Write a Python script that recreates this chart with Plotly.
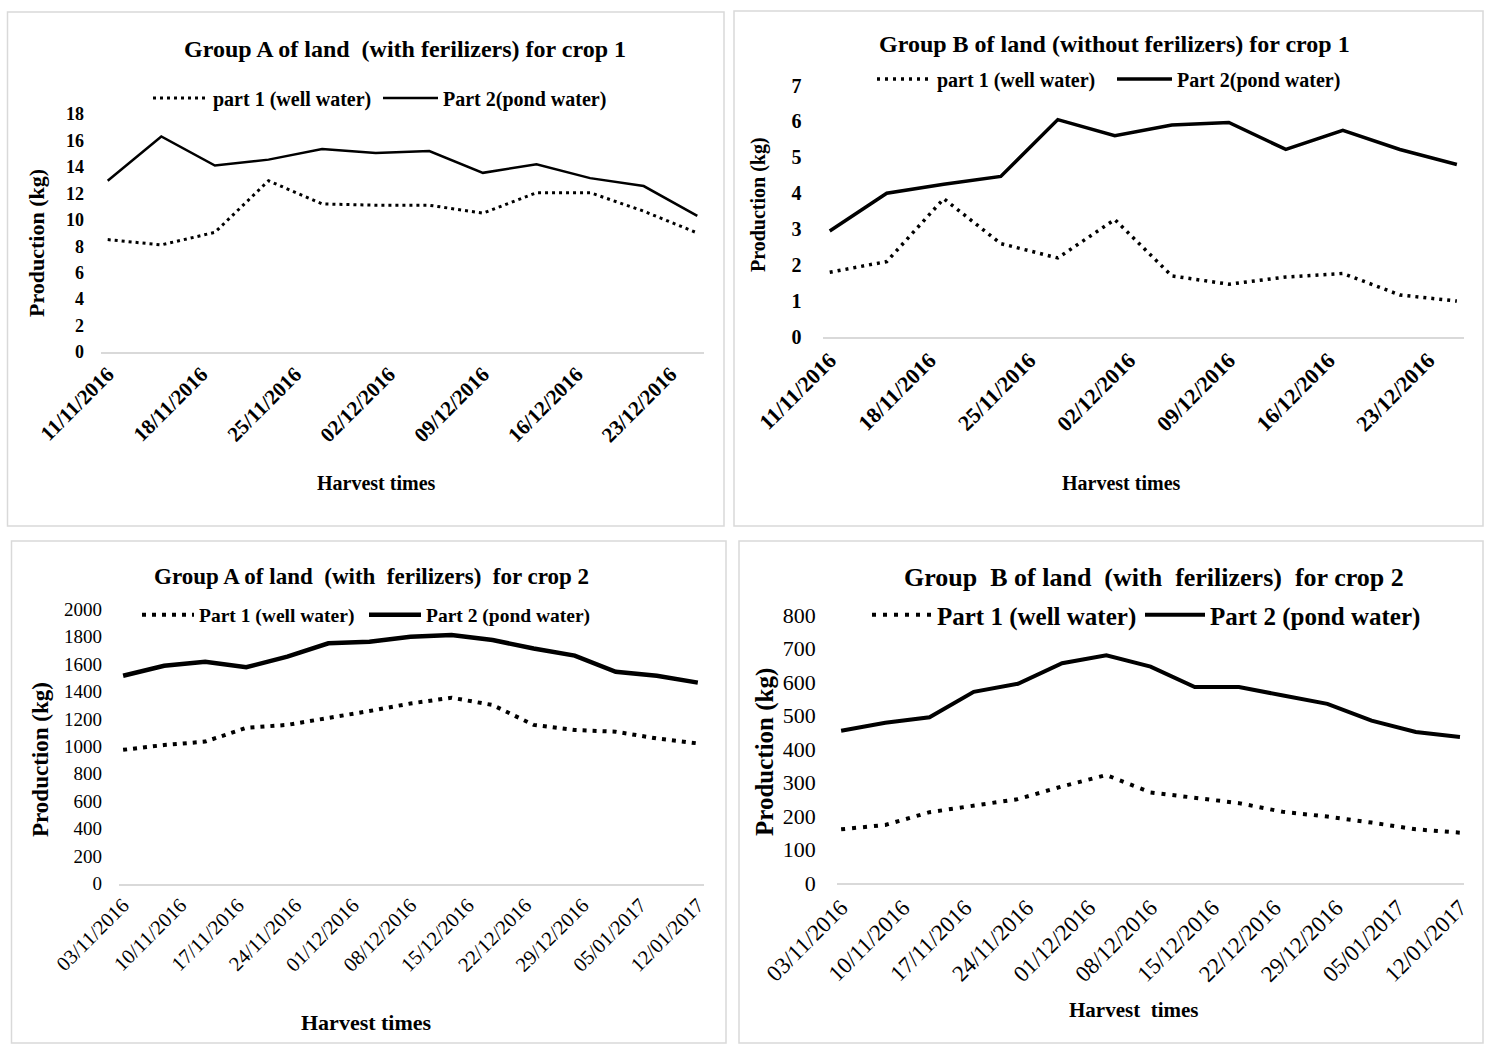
import plotly.graph_objects as go

W, H = 1487, 1045
SERIF = "Liberation Serif"

# Harvest dates
crop1_dates = ["2016-11-11", "2016-11-15", "2016-11-19", "2016-11-23", "2016-11-27", "2016-12-01",
               "2016-12-05", "2016-12-09", "2016-12-13", "2016-12-17", "2016-12-21", "2016-12-25"]
crop2_dates = ["2016-11-03", "2016-11-08", "2016-11-13", "2016-11-18", "2016-11-23", "2016-11-28",
               "2016-12-03", "2016-12-08", "2016-12-13", "2016-12-18", "2016-12-23", "2016-12-28",
               "2017-01-02", "2017-01-07", "2017-01-12"]

# Production (kg)
a1_well = [8.5, 8.1, 9.05, 12.95, 11.2, 11.1, 11.1, 10.5, 12.05, 12.05, 10.65, 9.0]
a1_pond = [12.95, 16.3, 14.1, 14.55, 15.35, 15.05, 15.2, 13.55, 14.2, 13.15, 12.55, 10.3]
b1_well = [1.8, 2.1, 3.85, 2.6, 2.2, 3.27, 1.7, 1.47, 1.67, 1.77, 1.17, 1.0]
b1_pond = [2.95, 4.0, 4.25, 4.47, 6.05, 5.6, 5.9, 5.97, 5.22, 5.75, 5.22, 4.8]
a2_well = [975, 1010, 1035, 1135, 1157, 1205, 1258, 1313, 1355, 1302, 1157, 1120, 1107, 1058, 1022]
a2_pond = [1515, 1588, 1617, 1577, 1655, 1752, 1764, 1800, 1812, 1776, 1714, 1662, 1544, 1516, 1465]
b2_well = [161, 174, 212, 231, 251, 289, 323, 271, 254, 239, 213, 199, 181, 161, 151]
b2_pond = [455, 479, 495, 571, 595, 656, 680, 646, 585, 585, 560, 535, 485, 451, 436]


def px(x):
    return x / W


def py(y):
    return 1 - y / H


NB = "\u00a0"

fig = go.Figure()
annotations = []
shapes = []
layout_extra = {}


def add_panel(idx, dates, well, pond, names, box, xdom, ydom, xrange, tick0, yrange, ydtick,
              title, title_pos, title_size, leg_pos, leg_size, leg_gap,
              ytitle_pos, ytitle_size, xtitle, xtitle_pos, xtitle_size,
              ytick_size, xtick_size, bold_ticks, ystandoff,
              well_w, well_dash, pond_w):
    sfx = "" if idx == 1 else str(idx)
    xa, ya = "x" + sfx, "y" + sfx
    leg_a = "legend" + ("" if idx == 1 else str(2 * idx - 1))
    leg_b = "legend" + str(2 * idx)

    fig.add_trace(go.Scatter(x=dates, y=well, mode="lines", name=names[0],
                             line=dict(color="black", width=well_w, dash=well_dash),
                             xaxis=xa, yaxis=ya, legend=leg_a))
    fig.add_trace(go.Scatter(x=dates, y=pond, mode="lines", name=names[1],
                             line=dict(color="black", width=pond_w),
                             xaxis=xa, yaxis=ya, legend=leg_b))

    weight = "bold" if bold_ticks else "normal"
    layout_extra["xaxis" + sfx] = dict(
        domain=[px(xdom[0]), px(xdom[1])], anchor=ya, type="date", range=xrange,
        tick0=tick0, dtick=7 * 86400000, tickformat="%d/%m/%Y", tickangle=-45,
        showgrid=False, zeroline=False, showline=True, linecolor="#d9d9d9", linewidth=1.5,
        ticks="", automargin=False,
        tickfont=dict(family=SERIF, size=xtick_size, color="black", weight=weight),
    )
    layout_extra["yaxis" + sfx] = dict(
        domain=[py(ydom[0]), py(ydom[1])], anchor=xa, range=yrange, dtick=ydtick,
        showgrid=False, zeroline=False, showline=False, ticks="", automargin=False,
        ticklabelstandoff=ystandoff,
        tickfont=dict(family=SERIF, size=ytick_size, color="black", weight=weight),
    )

    # legend entries, one per series, laid out side by side
    for key, lx in ((leg_a, leg_pos[0]), (leg_b, leg_pos[1])):
        layout_extra[key] = dict(
            orientation="h", x=px(lx), y=py(leg_pos[2]), xanchor="left", yanchor="middle",
            font=dict(family=SERIF, size=leg_size, color="black", weight="bold"),
            itemwidth=leg_gap, bgcolor="rgba(0,0,0,0)", borderwidth=0,
        )

    x0, y0, x1, y1 = box
    shapes.append(dict(type="rect", xref="paper", yref="paper",
                       x0=px(x0), x1=px(x1), y0=py(y1), y1=py(y0),
                       line=dict(color="#d9d9d9", width=1.5), fillcolor="rgba(0,0,0,0)", layer="below"))

    annotations.append(dict(text="<b>" + title + "</b>", x=px(title_pos[0]), y=py(title_pos[1]),
                            xref="paper", yref="paper", showarrow=False, xanchor="center", yanchor="middle",
                            font=dict(family=SERIF, size=title_size, color="black")))
    annotations.append(dict(text="<b>Production (kg)</b>", x=px(ytitle_pos[0]), y=py(ytitle_pos[1]),
                            xref="paper", yref="paper", showarrow=False, textangle=-90,
                            xanchor="center", yanchor="middle",
                            font=dict(family=SERIF, size=ytitle_size, color="black")))
    annotations.append(dict(text="<b>" + xtitle + "</b>", x=px(xtitle_pos[0]), y=py(xtitle_pos[1]),
                            xref="paper", yref="paper", showarrow=False, xanchor="center", yanchor="middle",
                            font=dict(family=SERIF, size=xtitle_size, color="black")))


add_panel(1, crop1_dates, a1_well, a1_pond,
          ["part 1 (well water)", "Part 2(pond water)"],
          box=(7.5, 12, 724, 526), xdom=(101, 704), ydom=(352, 114),
          xrange=["2016-11-10 12:00", "2016-12-25 12:00"], tick0="2016-11-11",
          yrange=[0, 18], ydtick=2,
          title="Group A of land " + NB + "(with ferilizers) for crop 1", title_pos=(405, 49), title_size=24,
          leg_pos=(148, 378, 98), leg_size=20, leg_gap=55,
          ytitle_pos=(36, 243), ytitle_size=22,
          xtitle="Harvest times", xtitle_pos=(377, 483), xtitle_size=20,
          ytick_size=18, xtick_size=21, bold_ticks=True, ystandoff=16,
          well_w=3, well_dash="3px,4px", pond_w=2.5)

add_panel(2, crop1_dates, b1_well, b1_pond,
          ["part 1 (well water)", "Part 2(pond water)"],
          box=(734, 11, 1483, 526), xdom=(822.6, 1464), ydom=(337, 85.5),
          xrange=["2016-11-10 12:00", "2016-12-25 12:00"], tick0="2016-11-11",
          yrange=[0, 7], ydtick=1,
          title="Group B of land (without ferilizers) for crop 1", title_pos=(1114, 44), title_size=24,
          leg_pos=(872, 1112, 79), leg_size=20, leg_gap=55,
          ytitle_pos=(758, 205), ytitle_size=20,
          xtitle="Harvest times", xtitle_pos=(1121, 483), xtitle_size=20,
          ytick_size=20, xtick_size=22, bold_ticks=True, ystandoff=20,
          well_w=3.5, well_dash="3px,5px", pond_w=3.5)

add_panel(3, crop2_dates, a2_well, a2_pond,
          ["Part 1 (well water)", "Part 2 (pond water)"],
          box=(11.5, 541, 726, 1043), xdom=(119, 704), ydom=(883.5, 609.3),
          xrange=["2016-11-02 12:00", "2017-01-12 18:00"], tick0="2016-11-03",
          yrange=[0, 2000], ydtick=200,
          title="Group A of land " + NB + "(with " + NB + "ferilizers) " + NB + "for crop 2",
          title_pos=(371, 576), title_size=23,
          leg_pos=(137, 364, 615), leg_size=19.5, leg_gap=52,
          ytitle_pos=(40, 760), ytitle_size=23,
          xtitle="Harvest times", xtitle_pos=(366, 1022), xtitle_size=22,
          ytick_size=19, xtick_size=20.5, bold_ticks=False, ystandoff=16,
          well_w=4, well_dash="4px,6px", pond_w=4.5)

add_panel(4, crop2_dates, b2_well, b2_pond,
          ["Part 1 (well water)", "Part 2 (pond water)"],
          box=(739, 541, 1483, 1043), xdom=(836.7, 1464.4), ydom=(883.3, 615),
          xrange=["2016-11-02 12:00", "2017-01-12 12:00"], tick0="2016-11-03",
          yrange=[0, 800], ydtick=100,
          title="Group " + NB + "B of land " + NB + "(with " + NB + "ferilizers) " + NB + "for crop 2",
          title_pos=(1154, 577), title_size=26,
          leg_pos=(867, 1140, 615), leg_size=25, leg_gap=60,
          ytitle_pos=(765, 752), ytitle_size=25,
          xtitle="Harvest " + NB + "times", xtitle_pos=(1133, 1010), xtitle_size=21,
          ytick_size=22, xtick_size=23, bold_ticks=False, ystandoff=20,
          well_w=4, well_dash="4px,7px", pond_w=4)

fig.update_layout(
    width=W, height=H, margin=dict(l=0, r=0, t=0, b=0, pad=0, autoexpand=False),
    paper_bgcolor="white", plot_bgcolor="white",
    showlegend=True, annotations=annotations, shapes=shapes,
    font=dict(family=SERIF, color="black"),
    **layout_extra,
)

fig.write_html("out.html")
